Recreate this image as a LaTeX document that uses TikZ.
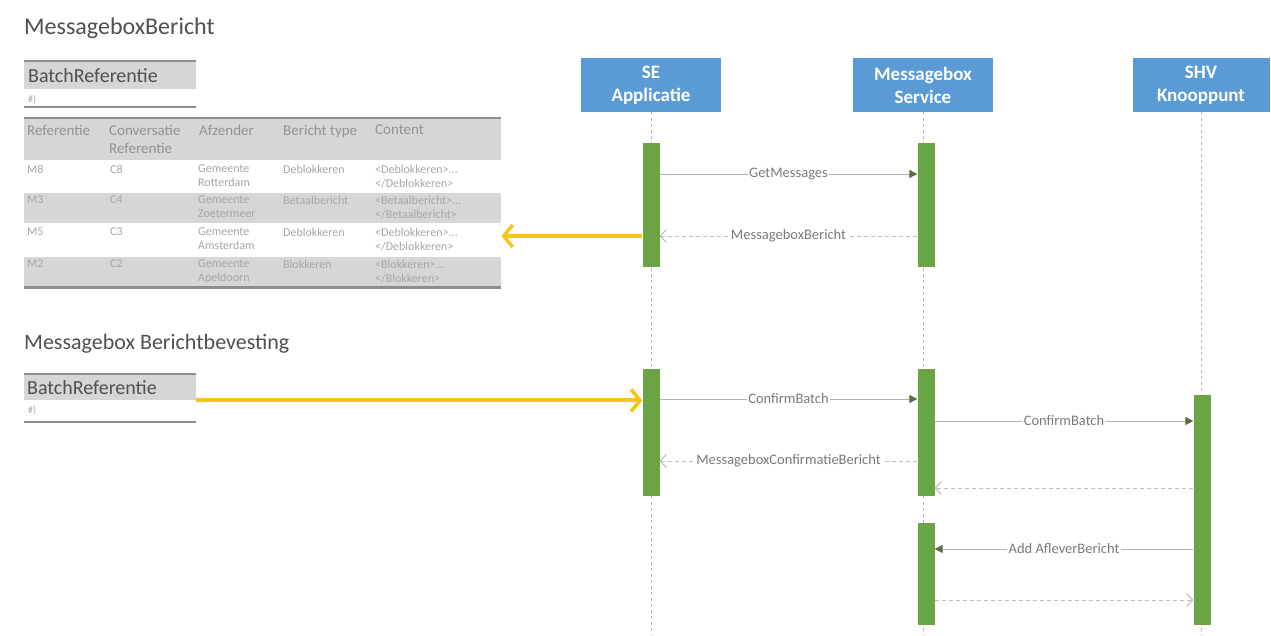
\documentclass[tikz,border=0pt]{standalone}
\usepackage{fontspec}
\setmainfont{Carlito}
\usetikzlibrary{arrows.meta,calc}
\definecolor{hdrblue}{HTML}{5B9BD5}
\definecolor{actgreen}{HTML}{6AA444}
\definecolor{ylw}{HTML}{F5C518}
\definecolor{tgray}{HTML}{D6D6D6}
\definecolor{tline}{HTML}{8E8E8E}
\definecolor{txtgray}{HTML}{505050}
\definecolor{lblgray}{HTML}{7A7A7A}
\definecolor{tipc}{HTML}{5E6B45}
\tikzset{
  hdr/.style={fill=hdrblue, draw=none, minimum width=140, minimum height=54, text=white, font=\fontsize{19}{23}\selectfont\bfseries, align=center, inner sep=0pt},
  act/.style={fill=actgreen, draw=none, minimum width=17, inner sep=0pt, anchor=north},
  life/.style={draw=gray!55, line width=0.6pt, dash pattern=on 3pt off 3pt},
  msg/.style={draw=gray!60, line width=1pt, -{Triangle[length=8pt,width=8pt,fill=tipc,color=tipc]}},
  ret/.style={draw=gray!50, line width=0.9pt, dash pattern=on 4pt off 3pt, -{Straight Barb[length=6pt,width=13pt,color=gray!60,line width=0.9pt]}},
  lbl/.style={fill=white, inner sep=1.5pt, text=lblgray, font=\fontsize{14.5}{15}\selectfont},
  yarrow/.style={draw=ylw, line width=4pt, -{Straight Barb[length=9pt,width=22pt,color=ylw,line width=3.5pt]}},
  ttl/.style={anchor=west, text=txtgray, inner sep=0pt},
  bref/.style={fill=tgray, draw=none, minimum width=172, minimum height=26, anchor=north west, inner sep=0pt},
  breft/.style={anchor=west, text=txtgray, font=\fontsize{20}{21}\selectfont, inner sep=0pt},
  th/.style={anchor=north west, text=gray!85, font=\fontsize{15}{18}\selectfont, inner sep=0pt, align=left},
  td/.style={anchor=north west, text=gray!70, font=\fontsize{12}{13.5}\selectfont, inner sep=0pt, align=left},
  small/.style={anchor=west, text=gray!70, font=\fontsize{10}{11}\selectfont, inner sep=0pt}
}
\begin{document}
\begin{tikzpicture}[x=1pt,y=-1pt]
\useasboundingbox[fill=white] (0,0) rectangle (1271,635);

% ---------- Titles ----------
\node[ttl, font=\fontsize{24}{26}\selectfont] (t1) at (24,28) {MessageboxBericht};
\node[ttl, font=\fontsize{22}{24}\selectfont] (t2) at (24,344) {Messagebox Berichtbevesting};

% ---------- BatchReferentie 1 ----------
\node[bref, minimum height=28] (br1) at (24,61) {};
\draw[tline, line width=2.5pt] (br1.north west) -- (br1.north east);
\node[breft] (br1t) at (28,76) {BatchReferentie};
\node[small] (br1s) at (28,100) {\#)};
\coordinate (br1b) at (24,107);
\draw[tline, line width=2.5pt] (br1b) -- ++(172,0);

% ---------- Table ----------
\node[anchor=north west, minimum width=477, minimum height=169, inner sep=0pt, draw=none] (tbl) at (24,118) {};
\fill[tgray] (24,118) rectangle (501,160);
\fill[tgray] (24,193) rectangle (501,223);
\fill[tgray] (24,257) rectangle (501,287);
\draw[tline, line width=2.5pt] (tbl.north west) -- (tbl.north east);
\draw[tline, line width=2.5pt] (tbl.south west) -- (tbl.south east);
\node[th] (h1) at (27,125) {Referentie};
\node[th] (h2) at (109,125) {Conversatie\\Referentie};
\node[th] (h3) at (199,125) {Afzender};
\node[th] (h4) at (283,125) {Bericht type};
\node[th] (h5) at (375,125) {Content};
% rows
\node[td] (r1a) at (27,165) {M8};
\node[td] (r1b) at (110,165) {C8};
\node[td] (r1c) at (198,165) {Gemeente\\Rotterdam};
\node[td] (r1d) at (283,165) {Deblokkeren};
\node[td] (r1e) at (375,165) {<Deblokkeren>...\\</Deblokkeren>};
\node[td] (r2a) at (27,196) {M3};
\node[td] (r2b) at (110,196) {C4};
\node[td] (r2c) at (198,196) {Gemeente\\Zoetermeer};
\node[td] (r2d) at (283,196) {Betaalbericht};
\node[td] (r2e) at (375,196) {<Betaalbericht>...\\</Betaalbericht>};
\node[td] (r3a) at (27,228) {M5};
\node[td] (r3b) at (110,228) {C3};
\node[td] (r3c) at (198,228) {Gemeente\\Amsterdam};
\node[td] (r3d) at (283,228) {Deblokkeren};
\node[td] (r3e) at (375,228) {<Deblokkeren>...\\</Deblokkeren>};
\node[td] (r4a) at (27,260) {M2};
\node[td] (r4b) at (110,260) {C2};
\node[td] (r4c) at (198,260) {Gemeente\\Apeldoorn};
\node[td] (r4d) at (283,260) {Blokkeren};
\node[td] (r4e) at (375,260) {<Blokkeren>...\\</Blokkeren>};

% ---------- BatchReferentie 2 ----------
\node[bref, minimum height=26] (br2) at (24,374) {};
\draw[tline, line width=2.5pt] (br2.north west) -- (br2.north east);
\node[breft] (br2t) at (27,388) {BatchReferentie};
\node[small] (br2s) at (28,411) {\#)};
\coordinate (br2b) at (24,422);
\draw[tline, line width=2.5pt] (br2b) -- ++(172,0);

% ---------- Lifeline headers ----------
\node[hdr] (se) at (651,85) {SE\\Applicatie};
\node[hdr] (mb) at (923,85) {Messagebox\\Service};
\node[hdr, minimum width=137] (shv) at (1201,85) {SHV\\Knooppunt};
\coordinate (bot) at (0,635);
\draw[life] (se.south) -- (se.south |- bot);
\draw[life] (mb.south) -- (mb.south |- bot);
\draw[life] (shv.south) -- (shv.south |- bot);

% ---------- Activation bars ----------
\node[act, minimum height=124] (se1) at (651,143) {};
\node[act, minimum height=127] (se2) at (651,369) {};
\node[act, minimum height=124] (mb1) at (926,143) {};
\node[act, minimum height=127] (mb2) at (926,369) {};
\node[act, minimum height=102] (mb3) at (926,523) {};
\node[act, minimum height=230] (shv1) at (1202,395) {};

% ---------- Messages ----------
\coordinate (y1) at (0,174);
\coordinate (y2) at (0,236);
\coordinate (y3) at (0,399);
\coordinate (y4) at (0,421);
\coordinate (y5) at (0,461);
\coordinate (y6) at (0,488);
\coordinate (y7) at (0,549);
\coordinate (y8) at (0,600);

\draw[msg] (se1.east |- y1) -- node[lbl] {GetMessages} (mb1.west |- y1);
\draw[ret] (mb1.west |- y2) -- node[lbl] {MessageboxBericht} (se1.east |- y2);
\draw[msg] (se2.east |- y3) -- node[lbl] {ConfirmBatch} (mb2.west |- y3);
\draw[msg] (mb2.east |- y4) -- node[lbl] {ConfirmBatch} (shv1.west |- y4);
\draw[ret] (mb2.west |- y5) -- node[lbl] {MessageboxConfirmatieBericht} (se2.east |- y5);
\draw[ret] (shv1.west |- y6) -- (mb2.east |- y6);
\draw[msg] (shv1.west |- y7) -- node[lbl] {Add AfleverBericht} (mb3.east |- y7);
\draw[ret] (mb3.east |- y8) -- (shv1.west |- y8);

% ---------- Yellow arrows ----------
\draw[yarrow] (se1.west |- y2) -- (tbl.east |- y2);
\draw[yarrow] (br2.south east) -- (se2.west |- br2.south east);
\end{tikzpicture}
\end{document}
